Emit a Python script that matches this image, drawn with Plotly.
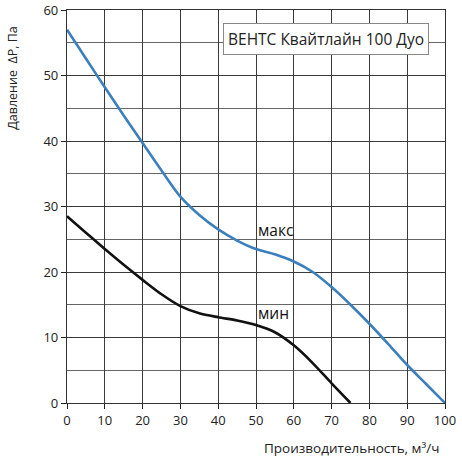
import plotly.graph_objects as go

flow_max = [0, 5, 10, 15, 20, 25, 30, 35, 40, 45, 50, 55, 60, 65, 70, 75, 80, 85, 90, 95, 100]
pres_max = [57, 52.6, 48.2, 43.9, 39.7, 35.5, 31.5, 28.7, 26.5, 24.8, 23.5, 22.7, 21.6, 20.0, 17.7, 15.0, 12.1, 9.0, 5.8, 2.9, 0]

flow_min = [0, 5, 10, 15, 20, 25, 30, 35, 40, 45, 50, 55, 60, 65, 70, 75]
pres_min = [28.5, 26.0, 23.5, 21.1, 18.8, 16.6, 14.8, 13.7, 13.1, 12.6, 11.9, 10.8, 8.8, 6.1, 3.0, 0]

x_ticks = [0, 10, 20, 30, 40, 50, 60, 70, 80, 90, 100]
y_ticks = [0, 10, 20, 30, 40, 50, 60]

title_text = "ВЕНТС Квайтлайн 100 Дуо"
label_max = "макс"
label_min = "мин"
x_title = "Производительность, м³/ч"
y_title = "Давление  ΔP, Па"

FONT = "Open Sans"
GRID = "#3a3a3a"

fig = go.Figure()
fig.add_trace(go.Scatter(x=flow_max, y=pres_max, mode="lines",
                         line=dict(color="#3b7fbd", width=2.6, shape="spline", smoothing=0.8),
                         showlegend=False, hoverinfo="skip"))
fig.add_trace(go.Scatter(x=flow_min, y=pres_min, mode="lines",
                         line=dict(color="#111111", width=2.6, shape="spline", smoothing=0.8),
                         showlegend=False, hoverinfo="skip"))

fig.update_layout(
    width=462, height=460,
    margin=dict(l=67, r=17, t=10, b=57, autoexpand=False),
    paper_bgcolor="white", plot_bgcolor="white",
    font=dict(family=FONT, size=13, color="#222222"),
    xaxis=dict(range=[0, 100], tickvals=x_ticks, ticks="outside", ticklen=5,
               tickcolor="#222", showgrid=True, gridcolor=GRID, gridwidth=1,
               showline=True, linecolor="#333", linewidth=1.2, mirror=True,
               zeroline=False, tickfont=dict(size=13), fixedrange=True, automargin=False),
    yaxis=dict(range=[0, 60], tickvals=y_ticks, ticks="outside", ticklen=5,
               tickcolor="#222", showgrid=True, gridcolor=GRID, gridwidth=1,
               minor=dict(dtick=5, showgrid=True, gridcolor="#666666", gridwidth=1),
               showline=True, linecolor="#333", linewidth=1.2, mirror=True,
               zeroline=False, tickfont=dict(size=13), fixedrange=True, automargin=False),
)

fig.add_annotation(x=0.684, y=0.926, xref="paper", yref="paper", text=title_text,
                   xanchor="center", yanchor="middle",
                   showarrow=False, font=dict(size=15.5, color="#222"),
                   bgcolor="white", bordercolor="#888", borderwidth=1, borderpad=4)
fig.add_annotation(x=55.2, y=26.4, text=label_max, showarrow=False,
                   xanchor="center", yanchor="middle",
                   font=dict(size=15.5, color="#111"))
fig.add_annotation(x=54.7, y=13.7, text=label_min, showarrow=False,
                   xanchor="center", yanchor="middle",
                   font=dict(size=15.5, color="#111"))
fig.add_annotation(x=0.752, y=-0.115, xref="paper", yref="paper", text=x_title,
                   xanchor="center", yanchor="middle",
                   showarrow=False, font=dict(size=13.5, color="#222"))
fig.add_annotation(x=-0.145, y=0.828, xref="paper", yref="paper", text=y_title,
                   xanchor="center", yanchor="middle",
                   showarrow=False, textangle=-90, font=dict(size=12.5, color="#222"))

fig.write_html("out.html", config={"displayModeBar": False, "responsive": False},
               post_script="document.body.style.margin='0';document.body.style.overflow='hidden';")
